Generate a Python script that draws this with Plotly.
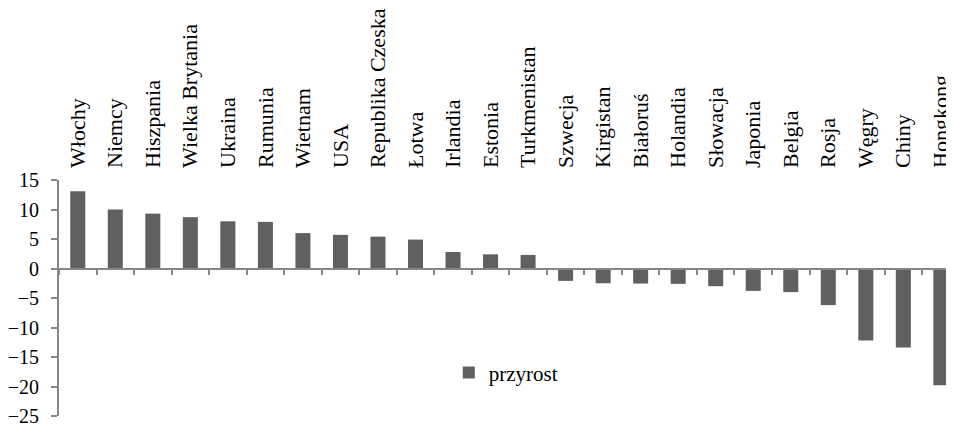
import plotly.graph_objects as go

categories = ["Włochy", "Niemcy", "Hiszpania", "Wielka Brytania", "Ukraina", "Rumunia",
              "Wietnam", "USA", "Republika Czeska", "Łotwa", "Irlandia", "Estonia",
              "Turkmenistan", "Szwecja", "Kirgistan", "Białoruś", "Holandia", "Słowacja",
              "Japonia", "Belgia", "Rosja", "Węgry", "Chiny", "Hongkong"]
values = [13.1, 10.0, 9.3, 8.7, 8.0, 7.9, 6.0, 5.7, 5.4, 4.9, 2.8, 2.4,
          2.3, -2.1, -2.5, -2.55, -2.6, -3.0, -3.8, -4.0, -6.2, -12.2, -13.4, -19.8]
y_ticks = [-25, -20, -15, -10, -5, 0, 5, 10, 15]
series_name = "przyrost"

AX = "#868686"
BAR = "#606060"
FONT = "Liberation Serif"

fig = go.Figure()
fig.add_bar(x=categories, y=values, name=series_name, marker_color=BAR,
            marker_line_width=0, width=0.4, xaxis="x", yaxis="y")
fig.add_bar(x=categories, y=values, showlegend=False, opacity=0, hoverinfo="skip",
            width=0.4, xaxis="x2", yaxis="y")

xr = [-0.5, len(categories) - 0.65]
ymin, ymax = y_ticks[0], y_ticks[-1]
zero_pos = (0 - ymin) / (ymax - ymin)

# the page places the figure 8px from the top-left corner of the window
fig.update_layout(
    width=946, height=419,
    margin=dict(l=49, r=0, t=172, b=8),
    paper_bgcolor="white", plot_bgcolor="white",
    font=dict(family=FONT, color="black"),
    showlegend=True,
    legend=dict(x=0.4355, y=0.183, xanchor="left", yanchor="middle",
                font=dict(family=FONT, size=21, color="black"),
                bgcolor="rgba(0,0,0,0)"),
    xaxis=dict(type="category", range=xr, anchor="free", position=zero_pos,
               showline=True, linecolor=AX, linewidth=2,
               ticks="outside", tickson="boundaries", ticklen=5, tickwidth=2, tickcolor=AX,
               showticklabels=False, showgrid=False, zeroline=False),
    xaxis2=dict(type="category", range=xr, overlaying="x", side="top", anchor="y",
                showline=False, ticks="", showgrid=False, zeroline=False,
                ticklabelstandoff=11, ticklabeloverflow="allow",
                tickangle=-90, tickfont=dict(family=FONT, size=22, color="black")),
    yaxis=dict(range=[ymin, ymax], tickvals=y_ticks, showline=True, linecolor=AX,
               linewidth=2, ticks="outside", ticklen=6, tickwidth=2, tickcolor=AX,
               showgrid=False, zeroline=False, ticklabelstandoff=8,
               ticklabeloverflow="allow",
               tickfont=dict(family=FONT, size=20, color="black")),
)

fig.write_html("out.html")
